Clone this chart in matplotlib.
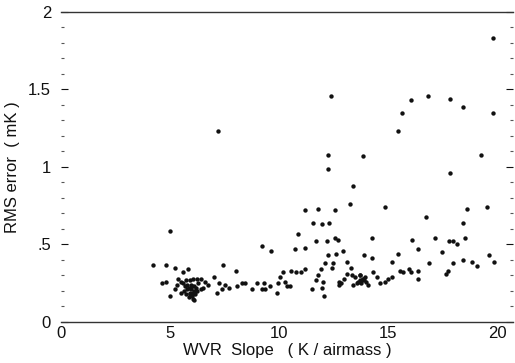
import numpy as np
import matplotlib.pyplot as plt

# WVR slope (K/airmass) vs RMS error (mK)
slope = [
    # outliers
    7.19, 12.36, 19.77, 16.02, 16.80, 17.80, 15.61, 18.40, 19.77, 15.42,
    12.22, 13.82, 19.22, 12.22, 17.80, 13.36, 13.23, 14.83, 11.17, 11.76,
    12.54, 16.70, 18.58, 19.50, 11.53, 11.95, 12.27, 18.40, 10.85, 4.99,
    # middle band
    9.20, 9.61, 10.71, 11.17, 11.67, 12.17, 12.54, 12.68, 14.23, 16.06,
    16.34, 17.12, 17.76, 17.94, 18.12, 18.49, 17.44, 12.91, 12.59, 15.42,
    13.87, 14.23, 12.22, 15.15, 16.84, 17.94, 18.40, 18.81, 19.04, 19.59,
    19.82, 12.45, 12.40, 12.08, 13.09, 13.27,
    # lower band, right
    15.51, 15.65, 15.93, 16.02, 16.34, 16.34, 17.62, 17.71, 14.83, 14.97,
    15.15, 10.16, 10.53, 10.76, 10.98, 11.17, 10.02, 10.25, 10.48, 10.34,
    9.93, 9.57, 9.34, 9.89, 11.67, 11.76, 11.90, 11.99, 11.95, 11.49,
    12.04, 12.72, 12.72, 13.09, 13.32, 13.46, 13.68, 13.78, 13.59, 13.91,
    13.36, 14.28, 14.46, 14.60, 13.68, 13.82, 13.96,
    13.75, 13.85, 13.70, 13.90, 14.05, 13.55, 12.85, 12.95,
    # lower band, left
    4.21, 4.81, 5.22, 5.58, 5.81, 7.41, 8.01, 7.00, 4.62, 4.81,
    4.99, 6.09, 5.22, 5.49, 7.14, 7.37, 7.23, 7.51, 7.69, 8.05,
    8.28, 8.42, 8.74, 8.97, 9.29, 9.20, 6.73, 6.59, 6.41, 6.22,
    6.04, 5.90, 5.60, 5.70, 5.80, 5.90, 6.00, 6.10, 6.20, 6.00,
    5.85, 5.95, 6.15, 6.30, 5.75, 5.50, 6.40, 6.05, 5.30, 5.35,
    5.65, 5.75, 5.85, 5.95, 6.05, 6.10, 5.90, 5.80, 6.25, 6.50,
]
rms = [
    1.23, 1.46, 1.83, 1.43, 1.46, 1.44, 1.35, 1.39, 1.35, 1.23,
    1.08, 1.07, 1.08, 0.99, 0.96, 0.88, 0.76, 0.74, 0.72, 0.73,
    0.72, 0.68, 0.73, 0.74, 0.64, 0.63, 0.64, 0.64, 0.57, 0.59,
    0.49, 0.46, 0.47, 0.48, 0.52, 0.52, 0.54, 0.53, 0.54, 0.53,
    0.47, 0.54, 0.52, 0.52, 0.50, 0.54, 0.45, 0.46, 0.44, 0.44,
    0.43, 0.41, 0.43, 0.39, 0.38, 0.38, 0.40, 0.39, 0.36, 0.43,
    0.39, 0.38, 0.35, 0.38, 0.39, 0.35,
    0.33, 0.32, 0.34, 0.32, 0.33, 0.28, 0.31, 0.33, 0.26, 0.28,
    0.29, 0.32, 0.33, 0.32, 0.32, 0.34, 0.29, 0.26, 0.23, 0.23,
    0.25, 0.23, 0.21, 0.19, 0.27, 0.30, 0.34, 0.26, 0.22, 0.21,
    0.17, 0.26, 0.24, 0.31, 0.30, 0.29, 0.30, 0.27, 0.26, 0.29,
    0.24, 0.32, 0.29, 0.25, 0.27, 0.28, 0.26,
    0.25, 0.28, 0.30, 0.27, 0.24, 0.25, 0.25, 0.28,
    0.37, 0.37, 0.35, 0.32, 0.34, 0.37, 0.33, 0.29, 0.25, 0.26,
    0.17, 0.14, 0.21, 0.19, 0.19, 0.21, 0.25, 0.24, 0.22, 0.23,
    0.25, 0.25, 0.21, 0.25, 0.25, 0.21, 0.24, 0.26, 0.28, 0.28,
    0.28, 0.27, 0.25, 0.23, 0.21, 0.19, 0.17, 0.20, 0.22, 0.23,
    0.16, 0.24, 0.18, 0.25, 0.27, 0.26, 0.21, 0.15, 0.24, 0.28,
    0.20, 0.18, 0.22, 0.21, 0.19, 0.23, 0.18, 0.24, 0.20, 0.22,
]

x_ticks = [0, 5, 10, 15, 20]
y_ticks = [0, 0.5, 1, 1.5, 2]
y_labels = ["0", ".5", "1", "1.5", "2"]

plt.rcParams['font.family'] = ['Liberation Sans', 'DejaVu Sans']
ink = '#111111'

fig = plt.figure(figsize=(5.15, 3.63), dpi=100)
ax = fig.add_axes([0.118, 0.113, 0.878, 0.854])

ax.scatter(slope, rms, s=10, color=ink, linewidths=0)

ax.set_xlim(0, 20.7)
ax.set_ylim(0, 2)

for side in ['left', 'right']:
    ax.spines[side].set_visible(False)
for side in ['top', 'bottom']:
    ax.spines[side].set_color('#333333')
    ax.spines[side].set_linewidth(1.0)

ax.set_xticks(x_ticks)
ax.set_yticks(y_ticks)
ax.set_yticklabels(y_labels)
ax.set_yticks(np.arange(0, 2.01, 0.1), minor=True)
ax.tick_params(axis='x', length=0, pad=3, labelsize=12, colors=ink)
ax.tick_params(axis='y', which='major', direction='in', length=5, width=0.8,
               left=True, right=True, labelsize=12, colors=ink, pad=7)
ax.tick_params(axis='y', which='minor', direction='in', length=2.5, width=0.8,
               left=True, right=True, colors='#555555')

ax.set_xlabel("WVR  Slope   ( K / airmass )", fontsize=12, color=ink, labelpad=1)
ax.set_ylabel("RMS error  ( mK )", fontsize=12, color=ink, labelpad=6)

plt.savefig("out.png", dpi=100)
